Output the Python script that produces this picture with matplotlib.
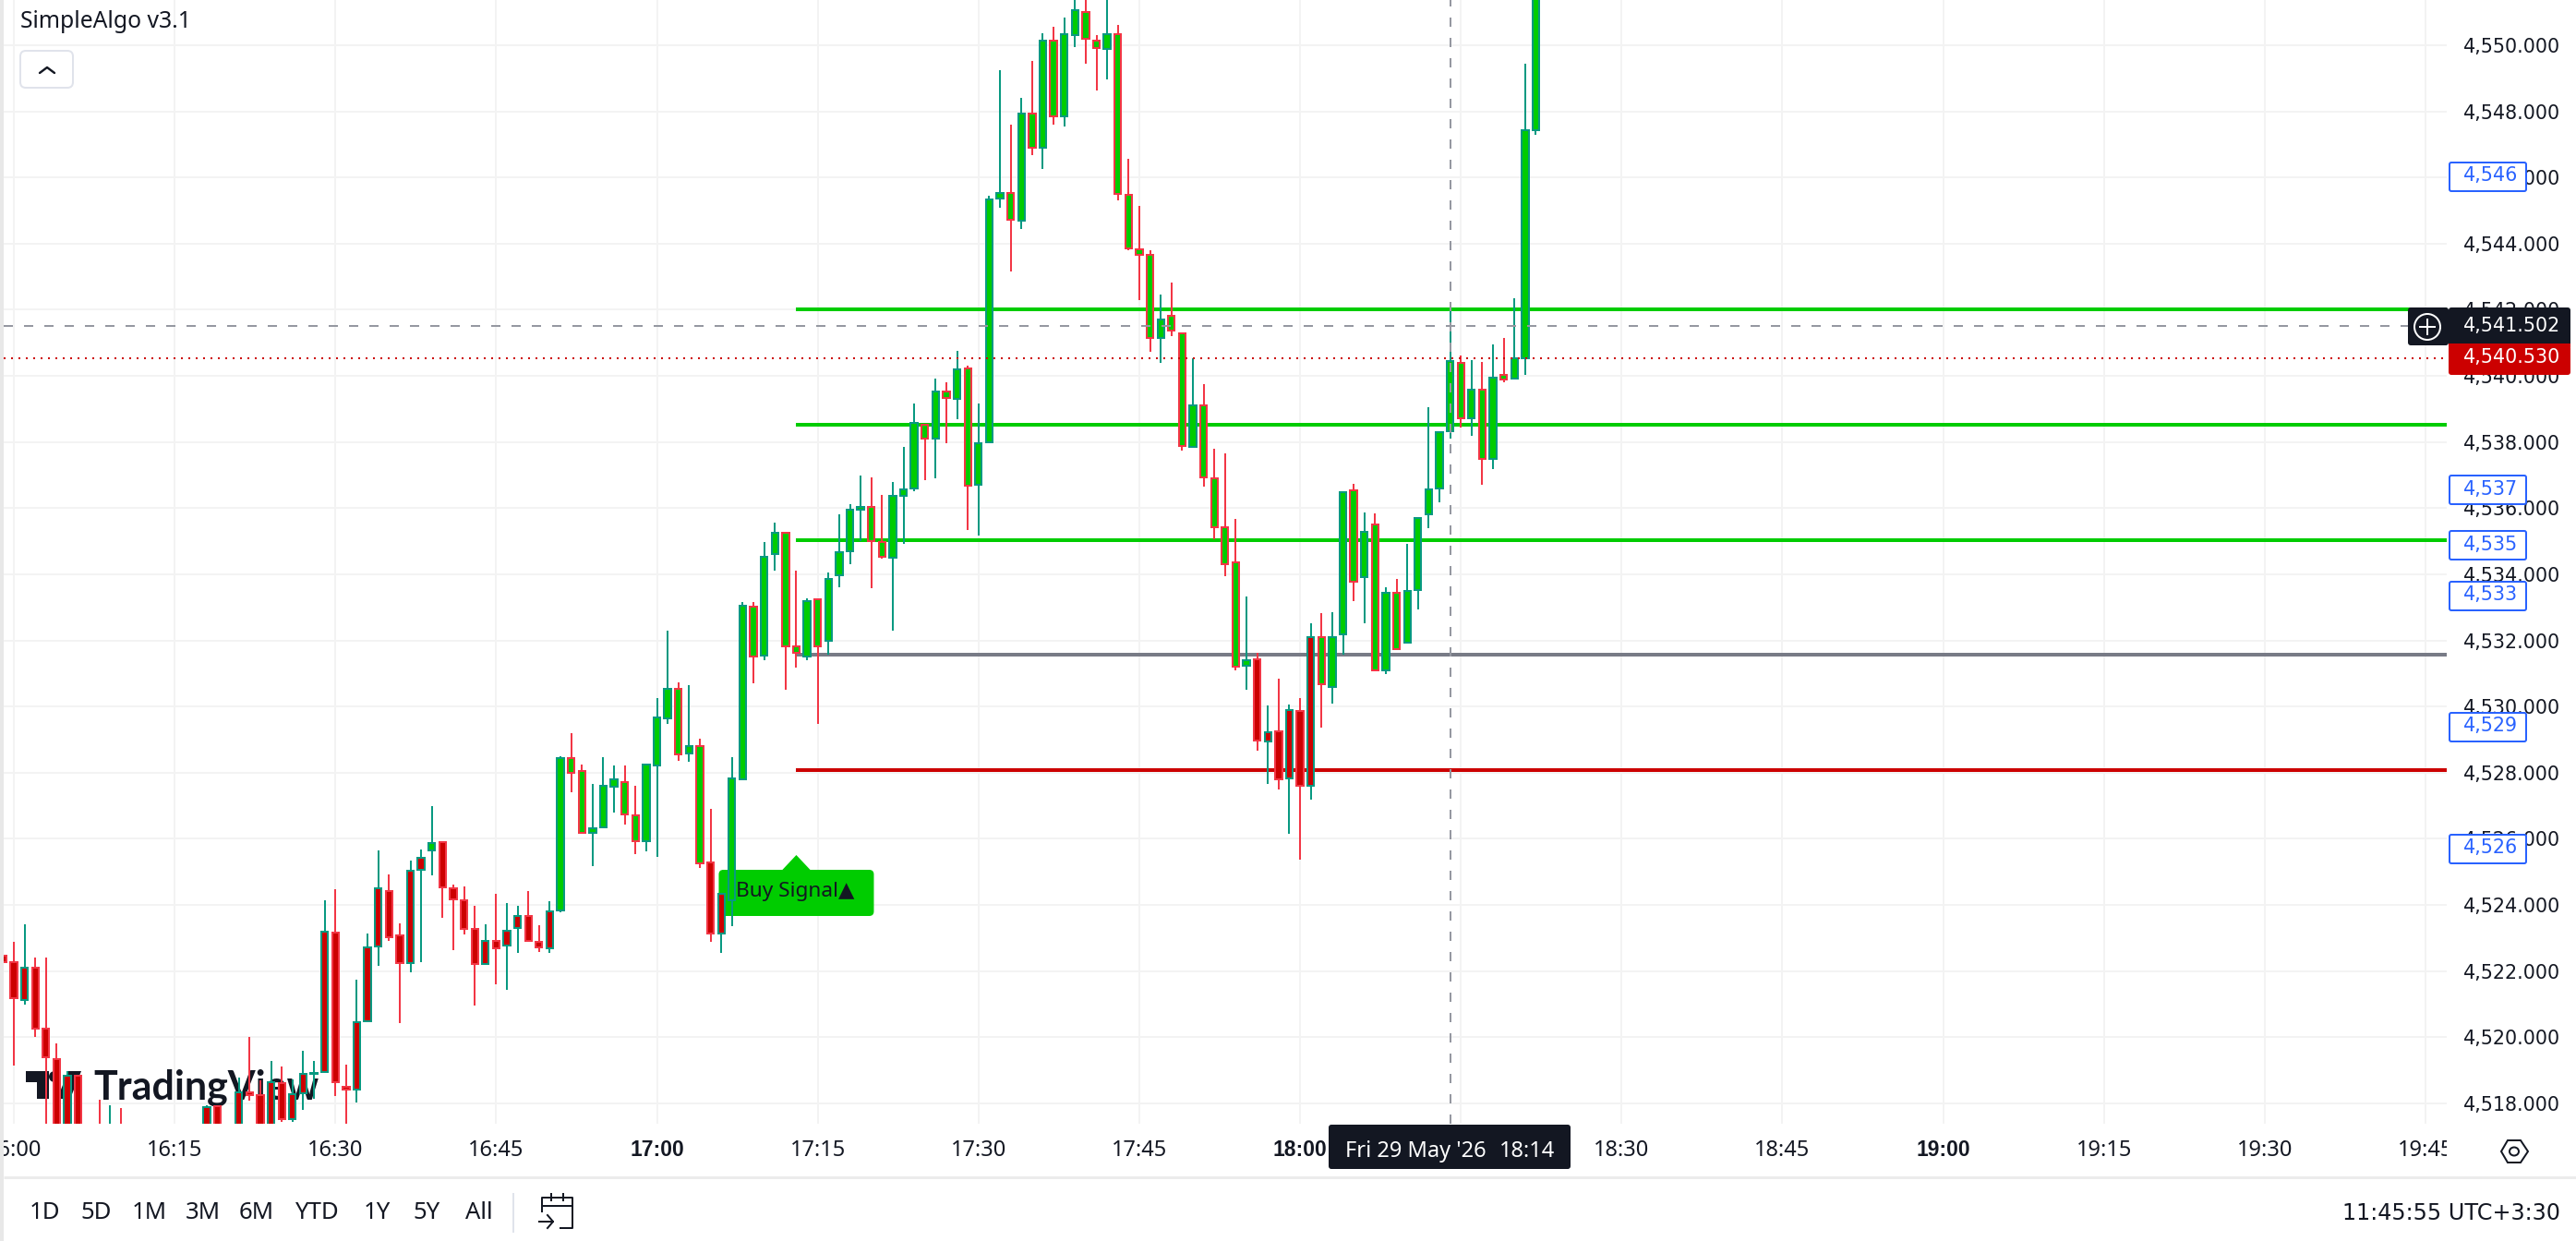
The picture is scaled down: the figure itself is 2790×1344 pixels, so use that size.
import matplotlib
matplotlib.use("Agg")
import matplotlib.pyplot as plt
from matplotlib.patches import Rectangle, FancyBboxPatch, Polygon, Circle, Ellipse
from matplotlib.transforms import Affine2D

# minutes after 16:00 for every candle that shows on screen
minutes = [-1, 0, 1, 2, 3, 4, 5, 6, 8, 9, 10, 18, 19, 21, 22, 23, 24, 25, 26, 27,
           28, 29, 30, 31, 32, 33, 34, 35, 36, 37, 38, 39, 40, 41, 42, 43, 44, 45, 46, 47,
           48, 49, 50, 51, 52, 53, 54, 55, 56, 57, 58, 59, 60, 61, 62, 63, 64, 65, 66, 67,
           68, 69, 70, 71, 72, 73, 74, 75, 76, 77, 78, 79, 80, 81, 82, 83, 84, 85, 86, 87,
           88, 89, 90, 91, 92, 93, 94, 95, 96, 97, 98, 99, 100, 101, 102, 103, 104, 105, 106, 107,
           108, 109, 110, 111, 112, 113, 114, 115, 116, 117, 118, 119, 120, 121, 122, 123, 124, 125, 126, 127,
           128, 129, 130, 131, 132, 133, 134, 135, 136, 137, 138, 139, 140, 141, 142]
opens = [4522.47, 4522.26, 4521.12, 4522.10, 4520.26, 4519.33, 4516.80, 4518.84, 4517.00, 4516.50, 4517.00, 4516.90, 4517.91, 4516.90, 4518.34, 4518.25, 4516.90, 4518.60, 4517.51, 4518.29,
         4518.89, 4518.94, 4523.16, 4518.51, 4518.40, 4520.49, 4522.73, 4524.42, 4523.08, 4522.23, 4525.05, 4525.66, 4525.90, 4524.51, 4524.15, 4523.26, 4522.22, 4522.91, 4522.78, 4523.31,
         4523.66, 4522.88, 4522.68, 4523.82, 4528.44, 4528.04, 4526.19, 4526.35, 4527.58, 4527.72, 4526.71, 4525.94, 4528.23, 4529.63, 4530.53, 4528.57, 4528.80, 4525.29, 4523.12, 4524.13,
         4527.81, 4533.02, 4531.54, 4534.60, 4535.25, 4531.82, 4531.52, 4533.24, 4531.98, 4533.98, 4534.70, 4535.95, 4536.05, 4534.98, 4534.49, 4536.36, 4536.60, 4538.53, 4538.10, 4539.54,
         4539.31, 4540.22, 4536.71, 4537.99, 4545.36, 4545.53, 4544.69, 4547.93, 4546.89, 4550.13, 4547.86, 4550.32, 4551.00, 4550.13, 4549.90, 4550.35, 4545.48, 4543.84, 4543.67, 4541.15,
         4541.82, 4541.30, 4537.85, 4539.12, 4536.89, 4535.41, 4534.35, 4531.24, 4531.44, 4528.94, 4529.25, 4527.82, 4529.86, 4527.61, 4532.09, 4530.60, 4532.17, 4536.53, 4533.92, 4535.52,
         4531.10, 4533.43, 4531.94, 4533.53, 4535.82, 4536.60, 4538.32, 4540.40, 4538.72, 4539.59, 4537.49, 4540.04, 4539.92, 4540.54, 4547.43]
highs = [4522.87, 4522.87, 4523.42, 4522.42, 4522.40, 4519.82, 4518.96, 4518.84, 4518.10, 4517.93, 4517.86, 4517.95, 4517.91, 4518.79, 4520.00, 4518.68, 4519.29, 4519.10, 4518.72, 4519.58,
         4519.27, 4524.15, 4524.47, 4519.16, 4521.75, 4523.12, 4525.64, 4524.91, 4523.45, 4525.35, 4525.68, 4527.00, 4525.90, 4524.60, 4524.57, 4523.98, 4523.40, 4524.33, 4524.05, 4523.96,
         4524.43, 4523.38, 4524.12, 4528.49, 4529.20, 4528.25, 4527.67, 4528.46, 4528.23, 4528.23, 4527.60, 4528.27, 4530.25, 4532.29, 4530.73, 4530.65, 4529.03, 4526.89, 4524.34, 4528.47,
         4533.17, 4533.17, 4534.98, 4535.57, 4535.25, 4534.10, 4533.26, 4533.24, 4534.06, 4535.81, 4536.13, 4536.99, 4536.93, 4536.40, 4536.79, 4537.85, 4539.16, 4538.53, 4539.91, 4539.80,
         4540.75, 4540.31, 4539.16, 4545.44, 4549.26, 4547.61, 4548.40, 4549.54, 4550.36, 4550.56, 4550.83, 4551.60, 4551.60, 4550.31, 4551.60, 4550.62, 4546.58, 4545.13, 4543.81, 4542.45,
         4542.81, 4541.30, 4540.53, 4539.74, 4537.79, 4537.65, 4535.67, 4533.33, 4531.63, 4530.04, 4530.83, 4530.07, 4530.25, 4532.52, 4532.83, 4532.85, 4536.50, 4536.73, 4535.88, 4535.83,
         4533.60, 4533.86, 4534.92, 4535.69, 4539.05, 4538.31, 4542.11, 4540.63, 4540.47, 4540.41, 4540.94, 4541.14, 4542.34, 4549.43, 4554.00]
lows = [4521.49, 4519.14, 4520.99, 4520.00, 4516.50, 4516.50, 4516.50, 4516.50, 4516.30, 4516.30, 4516.30, 4516.70, 4516.70, 4516.70, 4518.07, 4516.70, 4516.70, 4517.44, 4517.44, 4517.80,
        4518.14, 4518.91, 4518.23, 4517.20, 4518.03, 4520.49, 4522.15, 4522.91, 4520.43, 4521.96, 4522.26, 4524.89, 4523.61, 4522.62, 4523.10, 4520.96, 4522.22, 4521.59, 4521.42, 4522.54,
        4522.92, 4522.57, 4522.54, 4523.78, 4527.42, 4526.19, 4525.17, 4526.35, 4526.79, 4526.42, 4525.54, 4525.61, 4525.45, 4529.48, 4528.37, 4528.34, 4525.12, 4522.87, 4522.54, 4523.36,
        4527.79, 4530.71, 4531.41, 4534.10, 4530.52, 4531.18, 4531.41, 4529.46, 4531.58, 4533.61, 4534.30, 4535.01, 4533.58, 4534.47, 4532.30, 4534.93, 4536.50, 4536.85, 4536.89, 4537.96,
        4538.70, 4535.34, 4535.18, 4537.99, 4545.09, 4543.16, 4544.44, 4546.67, 4546.25, 4547.61, 4547.54, 4549.94, 4549.43, 4548.63, 4548.97, 4545.31, 4543.80, 4542.29, 4540.72, 4540.39,
        4541.21, 4537.73, 4537.82, 4536.64, 4535.06, 4533.94, 4531.09, 4530.50, 4528.66, 4527.66, 4527.50, 4526.16, 4525.38, 4527.19, 4529.37, 4530.09, 4531.57, 4533.20, 4532.51, 4531.10,
        4530.99, 4531.73, 4531.94, 4532.93, 4535.39, 4536.17, 4538.09, 4538.45, 4538.20, 4536.70, 4537.19, 4539.82, 4539.92, 4540.03, 4547.28]
closes = [4522.26, 4521.19, 4522.10, 4520.26, 4519.38, 4516.90, 4518.84, 4516.80, 4516.50, 4517.00, 4516.50, 4517.87, 4516.90, 4518.33, 4518.25, 4516.90, 4518.63, 4517.51, 4518.28, 4518.89,
          4518.93, 4523.19, 4518.65, 4518.40, 4520.45, 4522.72, 4524.51, 4523.03, 4522.25, 4525.02, 4525.42, 4525.88, 4524.52, 4524.17, 4523.26, 4522.22, 4522.91, 4522.70, 4523.22, 4523.66,
          4522.92, 4522.71, 4523.80, 4528.44, 4528.00, 4526.19, 4526.32, 4527.60, 4527.79, 4526.74, 4525.94, 4528.25, 4529.66, 4530.53, 4528.55, 4528.81, 4525.27, 4523.12, 4524.34, 4527.82,
          4533.05, 4531.52, 4534.53, 4535.25, 4531.82, 4531.61, 4533.19, 4531.82, 4533.86, 4534.66, 4535.94, 4536.04, 4534.99, 4534.53, 4536.36, 4536.56, 4538.59, 4538.11, 4539.54, 4539.32,
          4540.21, 4536.69, 4537.95, 4545.34, 4545.53, 4544.72, 4547.93, 4546.89, 4550.13, 4547.86, 4550.33, 4551.06, 4550.19, 4549.91, 4550.35, 4545.50, 4543.85, 4543.66, 4541.16, 4541.71,
          4541.36, 4537.88, 4539.12, 4536.94, 4535.42, 4534.31, 4531.20, 4531.40, 4528.97, 4529.21, 4527.79, 4529.88, 4527.61, 4532.09, 4530.67, 4532.11, 4536.47, 4533.78, 4535.29, 4531.10,
          4533.45, 4531.73, 4533.49, 4535.69, 4536.58, 4538.31, 4540.46, 4538.72, 4539.59, 4537.48, 4539.96, 4539.89, 4540.54, 4547.42, 4553.00]
# candles the indicator paints red, the rest are green
red_painted = list(range(-1, 39)) + list(range(40, 51)) + [65, 66] + list(range(116, 122))

level_prices = [4542.0, 4538.53, 4535.04, 4531.57, 4528.08]
level_colors = ["#00cc00", "#00cc00", "#00cc00", "#787b86", "#cc0000"]
level_start = 73

price_ticks = list(range(4518, 4552, 2))
time_ticks = list(range(0, 240, 15))
time_labels = ["16:00", "16:15", "16:30", "16:45", "17:00", "17:15", "17:30", "17:45",
               "18:00", "18:15", "18:30", "18:45", "19:00", "19:15", "19:30", "19:45"]
bold_times = ["17:00", "18:00", "19:00"]
order_labels = ["4,546", "4,537", "4,535", "4,533", "4,529", "4,526"]
order_tops = [175, 514, 574, 629, 771, 903]
range_buttons = ["1D", "5D", "1M", "3M", "6M", "YTD", "1Y", "5Y", "All"]
range_x = [48, 104, 162, 220, 278, 344, 408, 462, 519]
cross_minute = 134
cross_price = 4541.502
last_price = 4540.53

W, H = 2790, 1344
DARK = "#131722"
UI_FONT = ["Noto Sans", "DejaVu Sans"]
PX = 0.72  # one pixel in points at dpi 100

fig = plt.figure(figsize=(W / 100, H / 100), dpi=100, facecolor="white")
ax = fig.add_axes([4 / W, (H - 1217) / H, 2646 / W, 1217 / H])
ax.set_xlim(-0.948, 226.98)
ax.set_ylim(4517.38, 4551.37)
for s in ax.spines.values():
    s.set_visible(False)

# pixel coordinates (origin top left) for things that live on the chart pane
pix = Affine2D().scale(1, -1).translate(0, H)

ax.set_xticks(time_ticks)
ax.set_xticklabels(time_labels, fontsize=17, color=DARK, family=UI_FONT)
for t in ax.get_xticklabels():
    if t.get_text() in bold_times:
        t.set_family("Liberation Sans")
        t.set_fontweight("bold")
        t.set_fontsize(16.5)
ax.set_yticks(price_ticks)
ax.set_yticklabels([f"{p:,}.000" for p in price_ticks], fontsize=14.9, color=DARK, family="DejaVu Sans")
ax.yaxis.tick_right()
ax.tick_params(axis="x", length=0, pad=12)
ax.tick_params(axis="y", length=0, pad=13)
ax.grid(True, color="#f3f3f3", linewidth=2 * PX)
ax.set_axisbelow(True)

# watermark, sits under the candles
logo = [Polygon([(28, 1160), (53, 1160), (53, 1190), (40, 1190), (40, 1172), (28, 1172)]),
        Circle((59, 1166), 6),
        Polygon([(74, 1160), (88, 1160), (76, 1190), (62, 1190)])]
for p in logo:
    p.set(transform=pix, facecolor=DARK, edgecolor="none", zorder=2.5, clip_on=False)
    ax.add_patch(p)
ax.text(101, 1190, "TradingView", transform=pix, fontsize=31, fontweight="bold", family="Lato",
        color=DARK, va="baseline", ha="left", zorder=2.5)

# indicator levels
for price, col in zip(level_prices, level_colors):
    ax.hlines(price, level_start, 226.98, color=col, linewidth=4 * PX, zorder=2)

# buy signal label hangs under the level start
bx, by = ax.transData.transform((level_start, level_prices[-1]))
ax.add_patch(FancyBboxPatch((bx - 80, 946), 160, 42, boxstyle="round,pad=4,rounding_size=5", transform=pix,
                            facecolor="#00cc00", edgecolor="none", zorder=2.5, mutation_aspect=1))
ax.add_patch(Polygon([(bx - 16, 943), (bx, 926), (bx + 16, 943)], transform=pix, facecolor="#00cc00",
                     edgecolor="none", zorder=2.5))
ax.text(bx - 65, 966, "Buy Signal▲", transform=pix, fontsize=16.3, color=DARK, family=UI_FONT,
        va="center", ha="left", zorder=2.6)

# candles
for m, o, hi, lo, c in zip(minutes, opens, highs, lows, closes):
    edge = "#089981" if c >= o else "#f23645"
    fill = "#cc0000" if m in red_painted else "#00cc00"
    ax.vlines(m, lo, hi, color=edge, linewidth=2 * PX, zorder=3)
    ax.bar(m, abs(c - o), bottom=min(o, c), width=0.63, color=fill, edgecolor=edge,
           linewidth=2 * PX, zorder=4)

# current price and crosshair
ax.axhline(last_price, color="#cc0000", linewidth=2 * PX, dashes=(1, 3), zorder=5)
ax.axhline(cross_price, color="#9598a1", linewidth=2 * PX, dashes=(5, 6), zorder=6)
ax.axvline(cross_minute, color="#9598a1", linewidth=2 * PX, dashes=(5, 6), zorder=6)

# interface chrome drawn in screen pixels on top of the chart
ui = fig.add_axes([0, 0, 1, 1], zorder=10)
ui.set_xlim(0, W)
ui.set_ylim(H, 0)
ui.axis("off")
ui.patch.set_alpha(0)

ui.add_patch(Rectangle((0, 0), 4, H, facecolor="#e8e8e8", edgecolor="none"))
ui.add_patch(Rectangle((2650, 1218), 50, 54, facecolor="white", edgecolor="none"))
ui.hlines(1275, 4, W, color="#ececec", linewidth=3 * PX)

ui.text(22, 24, "SimpleAlgo v3.1", fontsize=17.8, color=DARK, family=UI_FONT, va="center", ha="left")
ui.add_patch(FancyBboxPatch((24, 57), 53, 36, boxstyle="round,pad=2,rounding_size=6", facecolor="white",
                            edgecolor="#e0e3eb", linewidth=2 * PX))
ui.plot([43, 51, 59], [79, 73, 79], color=DARK, linewidth=2.4 * PX, solid_capstyle="round")

# blue order tags on the price scale
for label, top in zip(order_labels, order_tops):
    ui.add_patch(FancyBboxPatch((2653, top + 1), 83, 31, boxstyle="round,pad=0,rounding_size=2", facecolor="white",
                                edgecolor="#2962ff", linewidth=2 * PX))
    ui.text(2668, top + 15.5, label, fontsize=14.9, color="#2962ff", family="DejaVu Sans", va="center", ha="left")

# crosshair and last price tags
ui.add_patch(FancyBboxPatch((2654, 335), 128, 38, boxstyle="round,pad=2,rounding_size=3", facecolor=DARK, edgecolor="none"))
ui.add_patch(FancyBboxPatch((2654, 376), 128, 28, boxstyle="round,pad=2,rounding_size=3", facecolor="#cc0000", edgecolor="none"))
ui.add_patch(Rectangle((2652, 372), 132, 4, facecolor="#cc0000", edgecolor="none"))
ui.text(2668, 353, f"{cross_price:,.3f}", fontsize=14.9, color="white", family="DejaVu Sans", va="center", ha="left")
ui.text(2668, 387, f"{last_price:,.3f}", fontsize=14.9, color="white", family="DejaVu Sans", va="center", ha="left")
ui.add_patch(FancyBboxPatch((2610, 335), 40, 37, boxstyle="round,pad=2,rounding_size=3", facecolor=DARK, edgecolor="none"))
ui.add_patch(Circle((2629, 354), 14, facecolor="none", edgecolor="white", linewidth=2 * PX))
ui.plot([2621, 2637], [354, 354], color="white", linewidth=2 * PX)
ui.plot([2629, 2629], [346, 362], color="white", linewidth=2 * PX)

# crosshair date tag
ui.add_patch(FancyBboxPatch((1441, 1220), 258, 44, boxstyle="round,pad=2,rounding_size=3", facecolor=DARK, edgecolor="none"))
ui.text(1457, 1247, "Fri 29 May '26", fontsize=17, color="white", family=UI_FONT, va="center", ha="left")
ui.text(1684, 1247, "18:14", fontsize=17, color="white", family=UI_FONT, va="center", ha="right")

# settings hexagon
ui.add_patch(Polygon([(2709, 1247), (2716, 1235), (2730, 1235), (2738, 1247), (2730, 1259), (2716, 1259)],
                     facecolor="none", edgecolor=DARK, linewidth=2 * PX))
ui.add_patch(Ellipse((2723, 1247), 10, 9, facecolor="none", edgecolor=DARK, linewidth=2 * PX))

# bottom toolbar
for label, x in zip(range_buttons, range_x):
    ui.text(x, 1314, label, fontsize=18.5, color=DARK, family=UI_FONT, va="center", ha="center")
ui.vlines(556, 1292, 1335, color="#e0e3eb", linewidth=2 * PX)
ui.plot([587, 587, 620, 620, 607], [1312, 1297, 1297, 1330, 1330], color=DARK, linewidth=2 * PX)
ui.plot([587, 620], [1306, 1306], color=DARK, linewidth=2 * PX)
ui.plot([597, 597], [1293, 1300], color=DARK, linewidth=2 * PX)
ui.plot([610, 610], [1293, 1300], color=DARK, linewidth=2 * PX)
ui.plot([584, 599], [1323, 1323], color=DARK, linewidth=2 * PX)
ui.plot([593, 599, 593], [1316, 1323, 1330], color=DARK, linewidth=2 * PX)
ui.text(2773, 1314, "11:45:55 UTC+3:30", fontsize=17.2, color=DARK, family="DejaVu Sans", va="center", ha="right")

fig.savefig("out.png", dpi=100)
